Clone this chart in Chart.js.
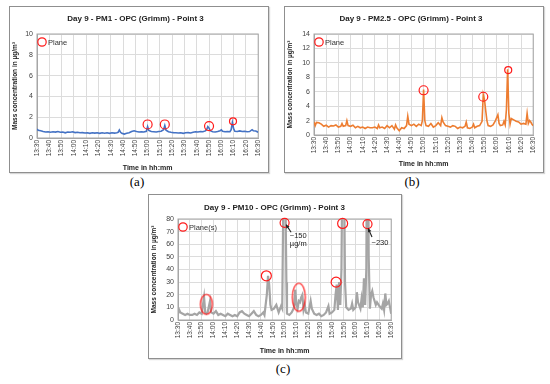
<!DOCTYPE html>
<html>
<head>
<meta charset="utf-8">
<script src="https://cdn.jsdelivr.net/npm/chart.js@4.4.1/dist/chart.umd.min.js"></script>
<style>
  body { margin: 0; background: #fff; width: 550px; height: 384px; position: relative; overflow: hidden; }
  .box { position: absolute; border: 1px solid #8f8f8f; box-shadow: 1px 1px 1px #d6d6d6; background: #fff; }
  .box canvas { display: block; }
  .cap { position: absolute; font-family: 'Liberation Serif', 'DejaVu Serif', serif; font-size: 13px; transform: translateX(-50%); color: #000; }
</style>
</head>
<body>
<div class="box" style="left:9px; top:6px; width:258px; height:165px;"><canvas id="pm1Chart" width="258" height="165"></canvas></div>
<div class="box" style="left:284px; top:6px; width:258px; height:165px;"><canvas id="pm25Chart" width="258" height="165"></canvas></div>
<div class="box" style="left:148px; top:194px; width:252px; height:163px;"><canvas id="pm10Chart" width="252" height="163"></canvas></div>
<div class="cap" style="left:137px; top:174px;">(a)</div>
<div class="cap" style="left:412px; top:174px;">(b)</div>
<div class="cap" style="left:283px; top:361px;">(c)</div>

<script>
// tick labels of the time axis (every 10 minutes from 13:30)
var timeTicks = ['13:30', '13:40', '13:50', '14:00', '14:10', '14:20', '14:30', '14:40', '14:50', '15:00',
                 '15:10', '15:20', '15:30', '15:40', '15:50', '16:00', '16:10', '16:20', '16:30'];

// PM1 - minutes after 13:30 and mass concentration
var pm1Min = [0, 1, 3, 5, 7, 9, 11, 13, 15, 17, 19, 21, 23, 25, 27, 29, 31, 33, 35, 37, 39, 41, 43, 45, 47, 49, 51, 53, 55, 57, 59, 61, 63, 65, 66, 67, 68, 69, 71, 73, 75, 77, 79, 81, 83, 85, 87, 89, 90, 91, 93, 95, 97, 99, 101, 103, 104, 105, 107, 109, 111, 113, 115, 117, 119, 121, 123, 125, 127, 129, 131, 133, 135, 137, 138, 139, 140, 141, 143, 145, 147, 149, 150, 151, 153, 155, 157, 158, 159, 160, 161, 163, 165, 167, 169, 171, 173, 175, 176, 178, 180];
var pm1Val = [0.85, 0.75, 0.7, 0.62, 0.58, 0.6, 0.55, 0.6, 0.57, 0.62, 0.55, 0.58, 0.5, 0.58, 0.55, 0.6, 0.52, 0.55, 0.5, 0.52, 0.48, 0.5, 0.45, 0.5, 0.47, 0.5, 0.45, 0.5, 0.46, 0.5, 0.45, 0.5, 0.47, 0.5, 0.55, 0.78, 0.55, 0.45, 0.38, 0.45, 0.5, 0.62, 0.7, 0.62, 0.58, 0.6, 0.58, 0.65, 1.1, 0.72, 0.62, 0.6, 0.58, 0.62, 0.65, 0.8, 1.2, 0.75, 0.6, 0.55, 0.52, 0.5, 0.48, 0.5, 0.45, 0.5, 0.52, 0.48, 0.55, 0.6, 0.58, 0.62, 0.6, 0.68, 0.8, 1.1, 0.95, 0.7, 0.6, 0.58, 0.62, 0.7, 0.78, 0.65, 0.6, 0.62, 0.6, 0.8, 1.5, 0.9, 0.65, 0.62, 0.68, 0.62, 0.65, 0.6, 0.62, 0.8, 0.7, 0.68, 0.55];
var pm1PlaneMin = [90, 104, 140, 159.5];
var pm1PlaneVal = [1.3, 1.3, 1.15, 1.6];

// PM2.5
var pm25Min = [0, 1, 2, 4, 6, 8, 10, 12, 14, 16, 18, 20, 22, 23, 24, 26, 27, 28, 30, 32, 34, 36, 38, 40, 42, 44, 46, 48, 50, 52, 53, 54, 56, 58, 60, 62, 64, 66, 67, 68, 70, 72, 74, 76, 77, 78, 80, 82, 84, 86, 88, 89, 90, 91, 92, 94, 96, 98, 100, 102, 104, 105, 106, 108, 110, 112, 114, 116, 118, 120, 122, 124, 125, 126, 128, 130, 131, 132, 134, 136, 138, 139, 140, 141, 142, 143, 145, 147, 149, 151, 152, 153, 155, 156, 157, 158, 159, 160, 161, 162, 164, 166, 168, 170, 172, 174, 175, 176, 177, 178, 179, 180];
var pm25Val = [1.8, 1.3, 1.75, 1.7, 1.5, 1.2, 1.35, 1.1, 1.3, 1.25, 1.4, 1.1, 1.2, 1.6, 1.2, 1.3, 2.0, 1.3, 1.2, 1.35, 1.0, 1.2, 1.0, 1.1, 0.9, 1.1, 1.0, 1.0, 1.1, 0.9, 1.4, 1.0, 1.1, 0.9, 1.3, 1.0, 1.3, 0.8, 1.4, 1.0, 0.6, 1.0, 0.9, 1.3, 2.6, 1.5, 1.3, 1.5, 1.2, 1.5, 1.3, 2.0, 6.3, 2.0, 1.3, 1.2, 1.6, 1.1, 1.3, 1.7, 1.3, 2.4, 1.8, 1.3, 1.2, 1.1, 1.3, 1.2, 0.9, 1.1, 1.0, 1.2, 1.8, 1.0, 0.9, 1.1, 1.5, 1.0, 1.2, 1.3, 1.9, 5.6, 4.9, 3.4, 2.0, 1.3, 1.2, 1.4, 2.0, 2.8, 1.6, 1.3, 1.4, 1.9, 1.4, 3.5, 9.1, 3.0, 1.5, 2.3, 2.1, 1.9, 1.8, 1.5, 1.6, 1.5, 3.0, 1.6, 2.0, 1.8, 1.5, 1.3];
var pm25PlaneMin = [90, 139, 159.5];
var pm25PlaneVal = [6.2, 5.3, 9.0];

// PM10 (peaks at 15:00, 15:50 and 16:10 run off the 80 scale)
var pm10Min = [0, 1, 2, 4, 6, 8, 10, 12, 14, 16, 18, 20, 22, 23, 24, 25, 27, 28, 30, 32, 34, 36, 38, 40, 42, 44, 46, 48, 50, 52, 54, 56, 58, 60, 62, 64, 66, 68, 70, 72, 73, 75, 76, 77, 78, 79, 81, 83, 85, 87, 88, 89.5, 90.5, 91.5, 92, 94, 96, 98, 99, 100, 101, 102, 103, 104, 105, 106, 107, 108, 110, 112, 113, 115, 117, 119, 121, 123, 125, 127, 128, 130, 132, 133, 134, 135, 136, 137, 138, 139, 140, 141, 142, 144, 146, 147, 148, 150, 151, 152, 154, 155, 156, 157, 158, 159, 160, 161, 162, 163, 164, 165, 167, 168, 170, 172, 173, 174, 175, 176, 177, 178, 179, 180];
var pm10Val = [5, 8, 6, 5, 4, 5, 4, 4, 5, 4, 6, 5, 18, 6, 5, 6, 15, 6, 5, 7, 4, 5, 4, 3, 5, 4, 3, 4, 3, 6, 7, 5, 4, 3, 5, 7, 4, 3, 4, 6, 4, 20, 35, 28, 12, 8, 9, 12, 6, 11, 9, 150, 120, 30, 5, 4, 6, 10, 24, 12, 9, 15, 14, 18, 20, 8, 12, 6, 5, 15, 9, 5, 4, 5, 3, 4, 6, 11, 5, 6, 8, 20, 28, 8, 30, 12, 40, 150, 140, 30, 10, 8, 9, 13, 8, 10, 22, 14, 9, 17, 10, 33, 12, 40, 230, 50, 9, 20, 23, 18, 12, 14, 11, 9, 13, 8, 21, 12, 13, 15, 10, 5];
var pm10PlaneMin = [24, 74.6, 90, 102, 133.5, 139, 160];
var pm10PlaneVal = [12.4, 35, 77, 18, 30, 76.5, 76];

var fontFamily = "'Liberation Sans', Arial, sans-serif";
Chart.defaults.font.family = fontFamily;

function toPoints(xs, ys) {
    return xs.map(function (x, i) { return { x: x, y: ys[i] }; });
}

// red outline ellipse used as a point style
function ellipseStyle(w, h) {
    var c = document.createElement('canvas');
    c.width = w + 4;
    c.height = h + 4;
    var g = c.getContext('2d');
    g.strokeStyle = '#ff1a1a';
    g.lineWidth = 1.2;
    g.beginPath();
    g.ellipse(c.width / 2, c.height / 2, w / 2, h / 2, 0, 0, Math.PI * 2);
    g.stroke();
    return c;
}

// plot frame + "Plane" key inside the plot
var plotFrame = {
    id: 'plotFrame',
    beforeDatasetsDraw: function (chart) {
        var a = chart.chartArea, c = chart.ctx;
        c.save();
        c.strokeStyle = '#a6a6a6';
        c.lineWidth = 1;
        c.strokeRect(a.left, a.top, a.right - a.left, a.bottom - a.top);
        c.restore();
    },
    afterDraw: function (chart, args, opts) {
        var a = chart.chartArea, c = chart.ctx;
        c.save();
        c.strokeStyle = '#ff1a1a';
        c.lineWidth = 1.2;
        c.beginPath();
        c.arc(a.left + 5, a.top + 8, 4.2, 0, Math.PI * 2);
        c.stroke();
        c.fillStyle = '#333';
        c.font = '7.5px ' + fontFamily;
        c.textBaseline = 'middle';
        c.fillText(opts.text, a.left + 11, a.top + 8.5);
        c.restore();
    }
};

function buildChart(id, o) {
    var ctx = document.getElementById(id).getContext('2d');
    return new Chart(ctx, {
        type: 'line',
        data: {
            datasets: [{
                label: o.planeLabel,
                data: toPoints(o.planeMin, o.planeVal),
                showLine: false,
                pointStyle: o.planeStyle,
                pointRadius: o.planeRadius,
                pointBorderColor: '#ff1a1a',
                pointBackgroundColor: 'rgba(0,0,0,0)',
                pointBorderWidth: 1.2,
                order: 0,
                clip: false
            }, {
                label: o.label,
                data: toPoints(o.min, o.val),
                borderColor: o.color,
                borderWidth: o.lineWidth,
                pointRadius: 0,
                tension: 0,
                order: 1
            }]
        },
        options: {
            responsive: false,
            animation: false,
            layout: { padding: { left: 0, right: o.padRight, top: 0, bottom: 0 } },
            plugins: {
                legend: { display: false },
                tooltip: { enabled: false },
                title: {
                    display: true, text: o.title, color: '#222',
                    font: { size: 8, weight: 'bold' },
                    padding: { top: o.titleTop, bottom: o.titleBottom }
                },
                plotFrame: { text: o.planeLabel }
            },
            scales: {
                x: {
                    type: 'linear', min: 0, max: 180,
                    afterFit: function (s) { s.height = o.xHeight; },
                    ticks: {
                        stepSize: 10, autoSkip: false, minRotation: 90, maxRotation: 90,
                        font: { size: 6.5 }, color: '#404040', padding: 2,
                        callback: function (v, i) { return timeTicks[i]; }
                    },
                    grid: { color: '#dcdcdc', drawTicks: false },
                    border: { color: '#a6a6a6' },
                    title: {
                        display: true, text: 'Time in hh:mm', color: '#222',
                        font: { size: 7, weight: 'bold' },
                        padding: { top: 0, bottom: o.xTitlePad }
                    }
                },
                y: {
                    min: 0, max: o.yMax,
                    afterFit: function (s) { s.width = o.yWidth; },
                    ticks: { stepSize: o.yStep, font: { size: 7 }, color: '#404040', padding: 4 },
                    grid: { color: '#dcdcdc', drawTicks: false },
                    border: { color: '#a6a6a6' },
                    title: {
                        display: true, text: 'Mass concentration in µg/m³', color: '#222',
                        font: { size: 6.5, weight: 'bold' },
                        padding: { top: 1, bottom: 0 }
                    }
                }
            }
        },
        plugins: [plotFrame].concat(o.extra || [])
    });
}

// arrows and notes for the off-scale PM10 peaks
var peakNotes = {
    id: 'peakNotes',
    afterDraw: function (chart) {
        var x = chart.scales.x, y = chart.scales.y, c = chart.ctx;
        var notes = [
            { lines: ['~150', 'µg/m'], at: [101.5, 66.5], from: [95.5, 69.5], to: [91.2, 75.5] },
            { lines: ['~230'], at: [170.5, 61], from: [163.8, 65.7], to: [160.6, 72.5] }
        ];
        c.save();
        notes.forEach(function (n) {
            c.fillStyle = '#222';
            c.font = '7.5px ' + fontFamily;
            c.textAlign = 'center';
            c.textBaseline = 'middle';
            n.lines.forEach(function (t, i) {
                c.fillText(t, x.getPixelForValue(n.at[0]), y.getPixelForValue(n.at[1]) + i * 8);
            });
            var x1 = x.getPixelForValue(n.from[0]), y1 = y.getPixelForValue(n.from[1]);
            var x2 = x.getPixelForValue(n.to[0]), y2 = y.getPixelForValue(n.to[1]);
            var ang = Math.atan2(y2 - y1, x2 - x1);
            c.strokeStyle = '#222';
            c.lineWidth = 1.1;
            c.beginPath();
            c.moveTo(x1, y1);
            c.lineTo(x2, y2);
            c.stroke();
            c.beginPath();
            c.moveTo(x2, y2);
            c.lineTo(x2 - 4 * Math.cos(ang - 0.5), y2 - 4 * Math.sin(ang - 0.5));
            c.lineTo(x2 - 4 * Math.cos(ang + 0.5), y2 - 4 * Math.sin(ang + 0.5));
            c.closePath();
            c.fillStyle = '#222';
            c.fill();
        });
        c.restore();
    }
};

buildChart('pm1Chart', {
    title: 'Day 9 - PM1 - OPC (Grimm) - Point 3', label: 'PM1',
    min: pm1Min, val: pm1Val, color: '#4472c4', lineWidth: 1.6,
    planeLabel: 'Plane', planeMin: pm1PlaneMin, planeVal: pm1PlaneVal,
    planeStyle: 'circle', planeRadius: [4.5, 4.5, 4.5, 3.5],
    yMax: 10, yStep: 2, yWidth: 27, padRight: 7,
    titleTop: 7, titleBottom: 10.4, xHeight: 34, xTitlePad: 0
});

buildChart('pm25Chart', {
    title: 'Day 9 - PM2.5 - OPC (Grimm) - Point 3', label: 'PM2.5',
    min: pm25Min, val: pm25Val, color: '#ed7d31', lineWidth: 1.6,
    planeLabel: 'Plane', planeMin: pm25PlaneMin, planeVal: pm25PlaneVal,
    planeStyle: 'circle', planeRadius: [4.5, 4.5, 3.5],
    yMax: 14, yStep: 2, yWidth: 29, padRight: 6,
    titleTop: 7, titleBottom: 10.4, xHeight: 37, xTitlePad: 3.5
});

buildChart('pm10Chart', {
    title: 'Day 9 - PM10 - OPC (Grimm) - Point 3', label: 'PM10',
    min: pm10Min, val: pm10Val, color: '#a5a5a5', lineWidth: 2.2,
    planeLabel: 'Plane(s)', planeMin: pm10PlaneMin, planeVal: pm10PlaneVal,
    planeStyle: [ellipseStyle(12, 20), 'circle', 'circle', ellipseStyle(13, 28), 'circle', 'circle', 'circle'],
    planeRadius: [6, 5, 4.5, 7, 5, 5, 4.5],
    yMax: 80, yStep: 10, yWidth: 29, padRight: 1,
    titleTop: 7.5, titleBottom: 6.9, xHeight: 38, xTitlePad: 3,
    extra: [peakNotes]
});
</script>
</body>
</html>
